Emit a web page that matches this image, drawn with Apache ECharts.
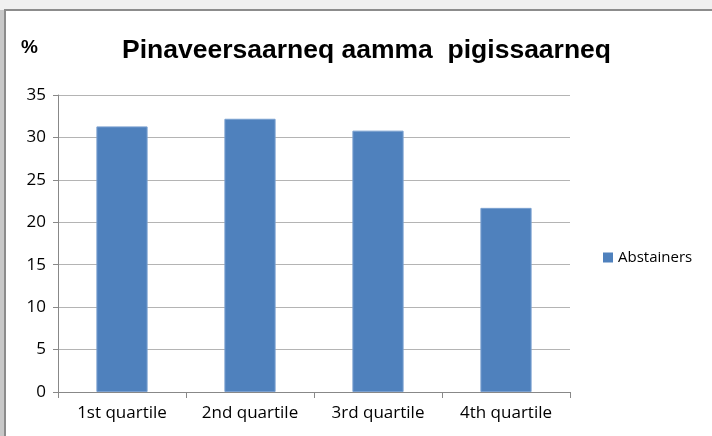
<!DOCTYPE html>
<html>
<head>
<meta charset="utf-8">
<script src="https://cdn.jsdelivr.net/npm/echarts@6/dist/echarts.min.js"></script>
<style>
html,body{margin:0;padding:0;background:#f0f0f0;}
#chart{width:712px;height:436px;}
</style>
</head>
<body>
<div id="chart"></div>
<script>
const categories = ['1st quartile', '2nd quartile', '3rd quartile', '4th quartile'];
const abstainers = [31.3, 32.2, 30.8, 21.7];
const seriesName = 'Abstainers';
const titleText = 'Pinaveersaarneq aamma  pigissaarneq';
const unitText = '%';

const labelFont = '"Open Sans", Lato, sans-serif';
const chart = echarts.init(document.getElementById('chart'), null, {renderer: 'canvas'});
chart.setOption({
  backgroundColor: '#f0f0f0',
  animation: false,
  graphic: [
    {type: 'rect', z: -10, shape: {x: 0, y: 10, width: 6, height: 430}, style: {fill: '#c8c8c8'}},
    {type: 'rect', z: -9, shape: {x: 5, y: 10, width: 720, height: 440}, style: {fill: '#ffffff', stroke: '#8c8c8c', lineWidth: 2}},
    {type: 'text', left: 21, top: 38, style: {text: unitText, font: 'bold 19px "Liberation Sans", Arial', fill: '#000'}}
  ],
  title: {
    text: titleText,
    left: 117, top: 32,
    textStyle: {fontFamily: '"Liberation Sans", Arial', fontWeight: 'bold', fontSize: 26.5, color: '#000'}
  },
  legend: {
    data: [seriesName],
    left: 598, top: 245,
    itemWidth: 10, itemHeight: 10, itemGap: 6,
    icon: 'rect',
    itemStyle: {borderWidth: 0},
    textStyle: {fontFamily: labelFont, fontSize: 15, color: '#000'}
  },
  grid: {left: 58, right: 142, top: 95, bottom: 44, containLabel: false},
  xAxis: {
    type: 'category',
    data: categories,
    axisLine: {lineStyle: {color: '#888', width: 1}},
    axisTick: {show: true, alignWithLabel: false, length: 6, lineStyle: {color: '#888'}},
    axisLabel: {fontFamily: labelFont, fontSize: 17, color: '#000', margin: 13}
  },
  yAxis: {
    type: 'value',
    min: 0, max: 35, interval: 5,
    axisLine: {show: true, lineStyle: {color: '#888', width: 1}},
    axisTick: {show: true, length: 5, lineStyle: {color: '#888'}},
    splitLine: {lineStyle: {color: '#b4b4b4', width: 1}},
    axisLabel: {fontFamily: labelFont, fontSize: 17, color: '#000', margin: 12}
  },
  series: [{
    name: seriesName,
    type: 'bar',
    data: abstainers,
    barWidth: '40%',
    itemStyle: {color: '#4f81bd', borderColor: '#7aa0d0', borderWidth: 1}
  }]
});
</script>
</body>
</html>
